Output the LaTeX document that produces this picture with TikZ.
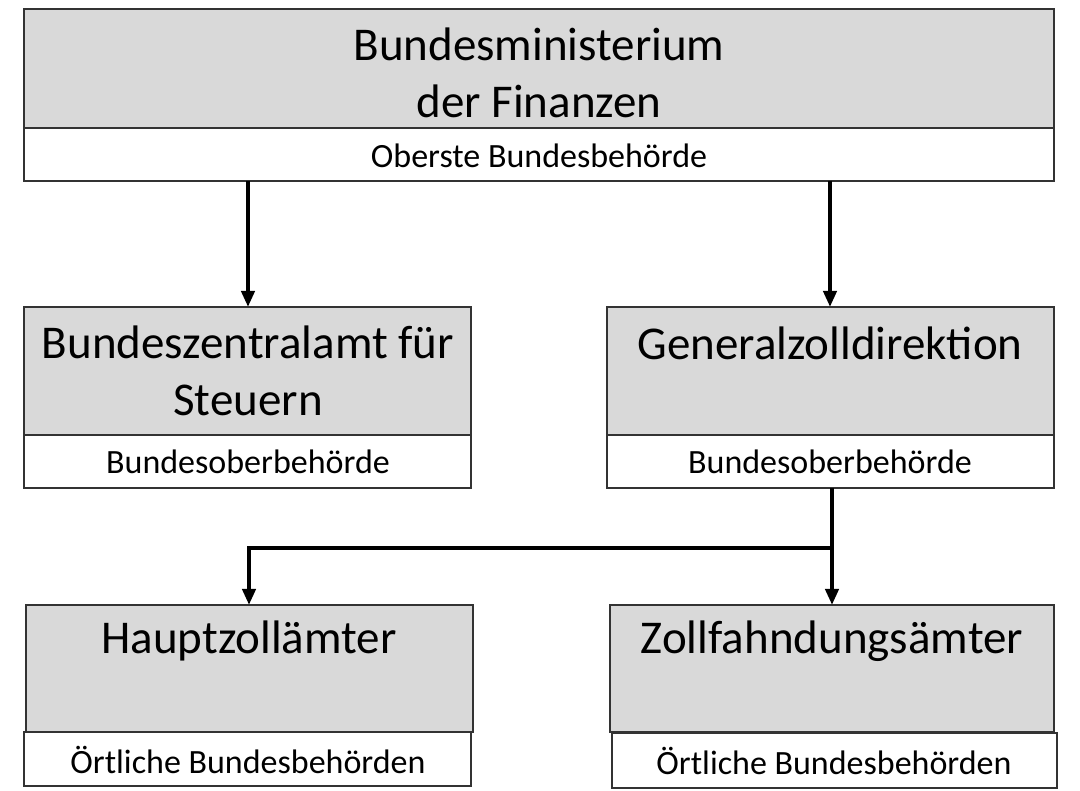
\documentclass[tikz,border=0pt]{standalone}
\usepackage{fontspec}
\setmainfont{Carlito}
\usetikzlibrary{arrows.meta}
\begin{document}
\begin{tikzpicture}[x=1pt,y=-1pt,
  gbox/.style={draw=black!80,fill=black!15,line width=1.2pt},
  wbox/.style={draw=black!80,fill=white,line width=1.2pt},
  big/.style={font=\fontsize{47}{57}\selectfont,align=center},
  small/.style={font=\fontsize{34}{40}\selectfont},
  arr/.style={line width=4pt,-{Triangle[length=16pt,width=13pt]}}]
\useasboundingbox (0,0) rectangle (1080,791);
% top
\draw[gbox] (24,9) rectangle (1054,128);
\draw[wbox] (24,128) rectangle (1054,181);
\node[big] (bmf) at (539,73) {Bundesministerium\\der Finanzen};
\node[small] (bmfs) at (539,156) {Oberste Bundesbehörde};
% mid left
\draw[gbox] (24,307) rectangle (471,435);
\draw[wbox] (24,435) rectangle (471,488);
\node[big] (bzst) at (248,371) {Bundeszentralamt für\\Steuern};
\node[small] at (248,462) {Bundesoberbehörde};
% mid right
\draw[gbox] (607,307) rectangle (1054,435);
\draw[wbox] (607,435) rectangle (1054,488);
\node[big] (gzd) at (830,343) {Generalzolldirektion};
\node[small] at (830,462) {Bundesoberbehörde};
% bottom left
\draw[gbox] (26,605) rectangle (473,732);
\draw[wbox] (24,732) rectangle (471,786);
\node[big] (hza) at (249,641) {Hauptzollämter};
\node[small] at (248,760) {Örtliche Bundesbehörden};
% bottom right
\draw[gbox] (610,605) rectangle (1054,732);
\draw[wbox] (612,733) rectangle (1057,788);
\node[big] (zfa) at (832,641) {Zollfahndungsämter};
\node[small] at (834,761) {Örtliche Bundesbehörden};
% arrows
\coordinate (a1) at (248,181); \coordinate (a2) at (248,307);
\coordinate (b1) at (830,181); \coordinate (b2) at (830,307);
\coordinate (c1) at (832,488); \coordinate (c2) at (832,548);
\coordinate (c3) at (832,605); \coordinate (d2) at (249,605);
\draw[arr] (a1) -- (a2);
\draw[arr] (b1) -- (b2);
\draw[line width=4pt] (c1) -- (c2);
\draw[arr] (c2) -- (c3);
\draw[arr] (c2) -| (d2);
\end{tikzpicture}
\end{document}
